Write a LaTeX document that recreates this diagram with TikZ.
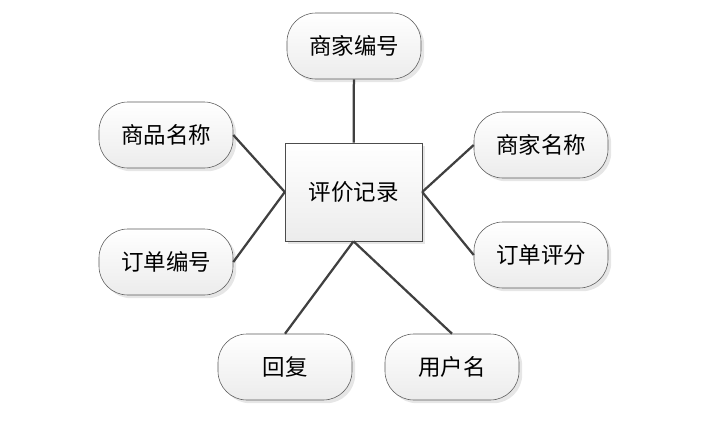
\documentclass[tikz,border=0pt]{standalone}
\usepackage{fontspec}
\newfontfamily\cjk{Noto Sans CJK SC}
\usetikzlibrary{positioning,shadows}

\begin{document}
\begin{tikzpicture}[
    x=0.025cm, y=-0.025cm,
    font=\cjk\fontsize{16}{19}\selectfont,
    attr/.style={draw=gray!70!black, rounded corners=0.72cm,
      minimum width=3.35cm, minimum height=1.65cm,
      top color=white, bottom color=gray!15,
      drop shadow={opacity=0.2, shadow xshift=0.08cm, shadow yshift=-0.08cm}},
    entity/.style={draw=gray!60!black, minimum width=3.42cm, minimum height=2.45cm,
      top color=white, bottom color=gray!15,
      drop shadow={opacity=0.2, shadow xshift=0.08cm, shadow yshift=-0.08cm}},
    link/.style={draw=black!75, line width=1.6pt}
  ]
  \useasboundingbox (0,0) rectangle (728,428);
  \node[entity] (record) at (353.5,192) {评价记录};
  \node[attr] (shopno) at (354,46) {商家编号};
  \node[attr] (goods) at (166,135) {商品名称};
  \node[attr] (orderno) at (166,262) {订单编号};
  \node[attr] (shopname) at (541,145) {商家名称};
  \node[attr] (score) at (541,255) {订单评分};
  \node[attr] (reply) at (285,367) {回复};
  \node[attr] (user) at (452,367) {用户名};
  % connectors
  \draw[link] (shopno) -- (record);
  \draw[link] (goods.east) -- (record.west);
  \draw[link] (orderno.east) -- (record.west);
  \draw[link] (shopname.west) -- (record.east);
  \draw[link] (score.west) -- (record.east);
  \draw[link] (reply.north) -- (record.south);
  \draw[link] (user.north) -- (record.south);
\end{tikzpicture}
\end{document}
